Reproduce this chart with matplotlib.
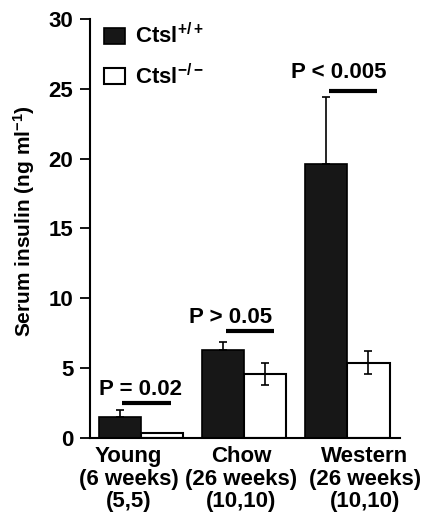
import numpy as np
import matplotlib
matplotlib.use('Agg')
import matplotlib.pyplot as plt

plt.rcParams['font.family'] = ['Liberation Sans', 'DejaVu Sans']
plt.rcParams['font.weight'] = 'bold'
plt.rcParams['mathtext.fontset'] = 'custom'
plt.rcParams['mathtext.rm'] = 'Liberation Sans:bold'
plt.rcParams['mathtext.it'] = 'Liberation Sans:bold'
plt.rcParams['mathtext.bf'] = 'Liberation Sans:bold'
plt.rcParams['mathtext.default'] = 'rm'

# data
groups = ['Young\n(6 weeks)\n(5,5)', 'Chow\n(26 weeks)\n(10,10)', 'Western\n(26 weeks)\n(10,10)']
wt_mean = [1.5, 6.3, 19.6]
wt_err = [0.5, 0.6, 4.8]
ko_mean = [0.35, 4.6, 5.4]
ko_err = [0.0, 0.8, 0.8]
p_labels = ['P = 0.02', 'P > 0.05', 'P < 0.005']
p_line_y = [2.5, 7.65, 24.85]
p_text_y = [3.1, 8.25, 25.75]
p_text_dx = [0.0, -0.13, -0.08]
label_dx = [-0.12, -0.03, 0.17]

x = np.arange(len(groups))
w = 0.41
fs = 16

fig = plt.figure(figsize=(4.3, 5.14), dpi=100)
ax = fig.add_axes([0.209, 0.148, 0.721, 0.815])

errkw = dict(ecolor='black', elinewidth=1.2, capthick=1.2)
b1 = ax.bar(x - w / 2, wt_mean, w, color='#171717', edgecolor='black',
            linewidth=1.2, yerr=[np.zeros(len(wt_err)), wt_err], capsize=3,
            error_kw=errkw, label=r'Ctsl$^{+/+}$')
b2 = ax.bar(x + w / 2, ko_mean, w, color='white', edgecolor='black',
            linewidth=1.5, yerr=ko_err, capsize=3, error_kw=errkw,
            label=r'Ctsl$^{-/-}$')

for i in range(len(groups)):
    ax.plot([x[i] - 0.18, x[i] + 0.29], [p_line_y[i]] * 2, color='black',
            lw=3, solid_capstyle='butt')
    ax.text(x[i] + p_text_dx[i], p_text_y[i], p_labels[i], ha='center',
            va='baseline', fontsize=fs, fontweight='bold')

ax.set_xlim(-0.495, 2.51)
ax.set_ylim(0, 30)
ax.set_yticks([0, 5, 10, 15, 20, 25, 30])
ax.set_xticks(x + np.array(label_dx))
ax.set_xticklabels(groups, fontsize=fs, fontweight='bold', linespacing=1.1)
ax.tick_params(axis='x', length=0, pad=6)
ax.tick_params(axis='y', length=7, width=1.3, pad=5, labelsize=fs)
for lab in ax.get_yticklabels():
    lab.set_fontweight('bold')
ax.spines['top'].set_visible(False)
ax.spines['right'].set_visible(False)
ax.spines['left'].set_linewidth(1.5)
ax.spines['bottom'].set_linewidth(1.5)
ax.set_ylabel(r'Serum insulin (ng ml$^{-1}$)', fontsize=15, fontweight='bold')
ax.yaxis.set_label_coords(-0.172, 0.518)

ax.legend(handles=[b1, b2], loc='upper left', bbox_to_anchor=(0.045, 0.99),
          frameon=False, fontsize=fs, handlelength=0.95, handleheight=0.75,
          handletextpad=0.45, labelspacing=0.68, borderpad=0, borderaxespad=0)

fig.savefig('out.png', dpi=100)
